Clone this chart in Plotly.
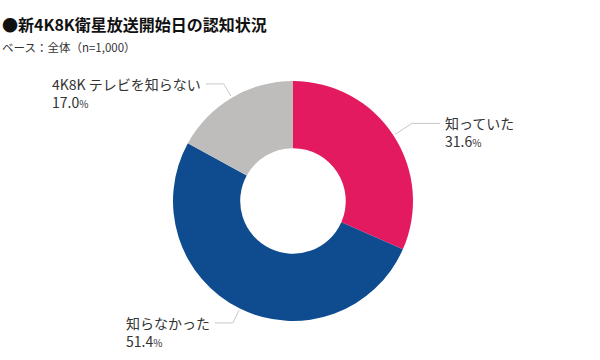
import math
import plotly.graph_objects as go

labels = ["知っていた", "知らなかった", "4K8K テレビを知らない"]
values = [31.6, 51.4, 17.0]
colors = ["#E31A5F", "#0F4C8F", "#BFBDBB"]
title = "●新4K8K衛星放送開始日の認知状況"
subtitle = "ベース：全体（n=1,000）"

W, H = 600, 360
CX, CY, R = 293, 201, 120
FONT = "Noto Sans CJK JP, Noto Sans, sans-serif"

fig = go.Figure(go.Pie(
    labels=labels, values=values, marker=dict(colors=colors, line=dict(width=0)),
    hole=0.44, sort=False, direction="clockwise", rotation=0,
    textinfo="none", hoverinfo="label+percent", showlegend=False,
    domain=dict(x=[(CX - R) / W, (CX + R) / W], y=[(H - CY - R) / H, (H - CY + R) / H]),
))

def px(x):
    return x / W

def py(y):
    return 1 - y / H

total = sum(values)
cum = 0
shapes = []
annotations = []
for lab, v in zip(labels, values):
    mid = (cum + v / 2) / total * 2 * math.pi
    cum += v
    s, c = math.sin(mid), math.cos(mid)
    right = s > 0
    elbow = R + (22 if right else 16)
    x0, y0 = CX + (R + 2) * s, CY - (R + 2) * c
    x1, y1 = CX + elbow * s, CY - elbow * c
    x2 = x1 + (28 if right else -18)
    for (a, b, cc, d) in [(x0, y0, x1, y1), (x1, y1, x2, y1)]:
        shapes.append(dict(type="line", xref="paper", yref="paper",
                           x0=px(a), y0=py(b), x1=px(cc), y1=py(d),
                           line=dict(color="#C8C8C8", width=1)))
    pct = f"{v:.1f}<span style='font-size:10px'>%</span>"
    annotations.append(dict(
        x=px(x2 + (3 if right else -3)), y=py(y1 - 12), xref="paper", yref="paper",
        xanchor="left" if right else "right", yanchor="top", align="left",
        text=f"{lab}<br>{pct}", showarrow=False,
        font=dict(family=FONT, size=14, color="#333333"),
    ))

annotations.append(dict(x=0, y=py(10), xref="paper", yref="paper", xanchor="left", yanchor="top",
                        text=f"<b>{title}</b>", showarrow=False,
                        font=dict(family=FONT, size=16, color="#111111")))
annotations.append(dict(x=0, y=py(37), xref="paper", yref="paper", xanchor="left", yanchor="top",
                        text=subtitle, showarrow=False,
                        font=dict(family=FONT, size=11.5, color="#333333")))

fig.update_layout(width=W, height=H, margin=dict(l=0, r=0, t=0, b=0),
                  paper_bgcolor="white", plot_bgcolor="white",
                  shapes=shapes, annotations=annotations)
fig.write_html("out.html", config={"displayModeBar": False},
               post_script="document.body.style.margin='0';document.body.style.overflow='hidden';")
